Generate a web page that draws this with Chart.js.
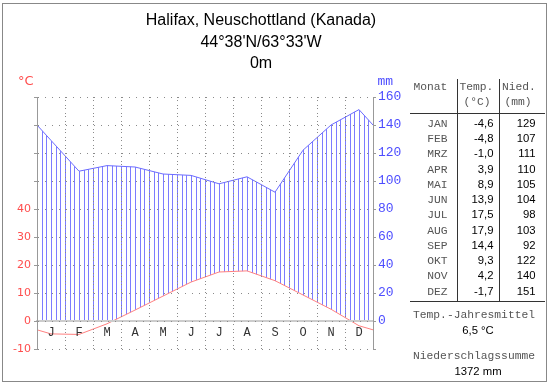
<!DOCTYPE html>
<html><head><meta charset="utf-8">
<script src="https://cdn.jsdelivr.net/npm/chart.js@4/dist/chart.umd.min.js"></script>
<style>
html,body{margin:0;padding:0;background:#fff;}
#wrap{position:relative;width:550px;height:384px;overflow:hidden;background:#fff;}
canvas{position:absolute;left:0;top:0;}
.t{position:absolute;white-space:nowrap;}
.mono{font-family:"Liberation Mono",monospace;font-size:11.3px;line-height:11.3px;color:#555;}
.sans{font-family:"Liberation Sans",Arial,sans-serif;font-size:11.3px;line-height:11.3px;color:#000;}
.ttl{position:absolute;font-family:"Liberation Sans",Arial,sans-serif;font-size:16px;line-height:16px;color:#000;width:522px;left:0;text-align:center;white-space:nowrap;}
.ln{position:absolute;background:#333;}
#frame{position:absolute;left:2px;top:3px;width:543px;height:377px;border:1px solid #888;}
</style></head><body>
<div id="wrap">
<canvas id="c" width="550" height="384"></canvas>
<div id="frame"></div>
<div class="ttl" style="top:11.5px">Halifax, Neuschottland (Kanada)</div>
<div class="ttl" style="top:33.5px">44°38'N/63°33'W</div>
<div class="ttl" style="top:55px">0m</div>
<div class="t" style="left:18px;top:74px;font-family:'DejaVu Sans',sans-serif;font-size:13px;line-height:13px;color:#ff4d4d">°C</div>
<div class="t" style="left:377.5px;top:75px;font-family:'Liberation Mono',monospace;font-size:13px;line-height:13px;color:#4d4dff">mm</div>
<div id="table"></div>
</div>
<script>
const months = ['J','F','M','A','M','J','J','A','S','O','N','D'];
const monthAbbr = ['JAN','FEB','MRZ','APR','MAI','JUN','JUL','AUG','SEP','OKT','NOV','DEZ'];
const temps = [-4.6,-4.8,-1.0,3.9,8.9,13.9,17.5,17.9,14.4,9.3,4.2,-1.7];
const precip = [129,107,111,110,105,104,98,103,92,122,140,151];
const tempTickLabels = [-10,0,10,20,30,40];
const precipTickLabels = [0,20,40,60,80,100,120,140,160];
const meanTempText = '6,5 °C';
const precipSumText = '1372 mm';

// series with wrap-around edge values at the year boundaries
function series(vals){
  const edge = (vals[vals.length-1] + vals[0]) / 2;
  const pts = [{x:0, y:edge}];
  vals.forEach((v,i)=>pts.push({x:i+0.5, y:v}));
  pts.push({x:vals.length, y:edge});
  return pts;
}

function hatch(){
  const c = document.createElement('canvas');
  c.width = 28; c.height = 4;
  const g = c.getContext('2d');
  g.fillStyle = '#7c7cff';
  [0,4,9,14,18,23].forEach(x=>g.fillRect(x,0,1,4));
  return g.createPattern(c,'repeat');
}

// table
(function(){
  const tb = document.getElementById('table');
  let h = '';
  const add = (cls, style, txt) => { h += '<div class="t '+cls+'" style="'+style+'">'+txt+'</div>'; };
  add('mono','left:413.5px;top:81.5px','Monat');
  add('mono','left:459.5px;top:81.5px','Temp.');
  add('mono','left:502px;top:81.5px','Nied.');
  add('mono','left:457px;width:40px;text-align:center;top:97px','(°C)');
  add('mono','left:499px;width:38px;text-align:center;top:97px','(mm)');
  for (let i=0;i<12;i++){
    const b = 127.5 + i*15.25;
    add('mono','right:102.5px;text-align:right;top:'+(b-8.66)+'px', monthAbbr[i]);
    add('sans','right:56.5px;text-align:right;top:'+(b-9.57)+'px', temps[i].toFixed(1).replace('.',','));
    add('sans','right:14.5px;text-align:right;top:'+(b-9.57)+'px', String(precip[i]));
  }
  add('mono','left:404px;width:140px;text-align:center;top:'+(318.3-8.66)+'px','Temp.-Jahresmittel');
  add('sans','left:408px;width:140px;text-align:center;top:'+(335-9.57)+'px', meanTempText);
  add('mono','left:404px;width:140px;text-align:center;top:'+(359.8-8.66)+'px','Niederschlagssumme');
  add('sans','left:408px;width:140px;text-align:center;top:'+(375.8-9.57)+'px', precipSumText);
  h += '<div class="ln" style="left:457px;top:79px;width:1px;height:222px"></div>';
  h += '<div class="ln" style="left:499px;top:79px;width:1px;height:222px"></div>';
  h += '<div class="ln" style="left:410px;top:113px;width:135px;height:1px"></div>';
  h += '<div class="ln" style="left:410px;top:301px;width:135px;height:1px"></div>';
  tb.innerHTML = h;
})();

new Chart(document.getElementById('c'), {
  type: 'line',
  data: {
    datasets: [
      {label:'Temperatur', data: series(temps), yAxisID:'y', xAxisID:'x',
       borderColor:'#ff8080', borderWidth:1, pointRadius:0, tension:0,
       fill:'origin', backgroundColor:'#ffffff'},
      {label:'Niederschlag', data: series(precip), yAxisID:'y2', xAxisID:'x',
       borderColor:'#6b6bff', borderWidth:1, pointRadius:0, tension:0,
       fill:'origin', backgroundColor: hatch()}
    ]
  },
  options: {
    responsive:false, animation:false, devicePixelRatio:1,
    layout:{padding:{left:0,right:137,top:97,bottom:35}},
    plugins:{legend:{display:false}, tooltip:{enabled:false}, title:{display:false}},
    scales:{
      x:{type:'linear', min:0, max:12, position:{y:0},
        afterBuildTicks: s => { const t=[]; for(let i=0;i<=24;i++) t.push({value:i/2}); s.ticks = t; },
        ticks:{z:2, autoSkip:false, maxRotation:0, minRotation:0, padding:5, color:'#333',
          font:{family:'Liberation Mono', size:12},
          callback: v => (v % 1 ? months[Math.floor(v)] : '')},
        grid:{z:1, drawTicks:false, lineWidth:1,
          color: c => (c.tick && c.tick.value % 1 === 0 && c.tick.value > 0 && c.tick.value < 12) ? '#8a8a8a' : 'rgba(0,0,0,0)'},
        border:{z:1, display:true, color:'#cccccc', width:2, dash:[1,2,1,4]}},
      y:{type:'linear', position:'left', min:-10, max:80,
        afterFit: s => { s.width = 37; },
        ticks:{z:2, stepSize:10, padding:3, color:'#ff4d4d', font:{family:'DejaVu Sans', size:11},
          callback: v => tempTickLabels.includes(v) ? String(v) : ''},
        grid:{z:1, color:'#8a8a8a', drawTicks:true, tickLength:3, tickColor:'#999'},
        border:{z:2, color:'#999', width:1, dash:[1,6]}},
      y2:{type:'linear', position:'right', min:-20, max:160,
        afterFit: s => { s.width = 40; },
        ticks:{z:2, stepSize:20, padding:2, color:'#4d4dff', font:{family:'Liberation Mono', size:13},
          callback: v => precipTickLabels.includes(v) ? String(v) : ''},
        grid:{z:1, drawOnChartArea:false, drawTicks:true, tickLength:3, tickColor:'#999'},
        border:{z:2, color:'#999', width:1}}
    }
  }
});
</script>
</body></html>
